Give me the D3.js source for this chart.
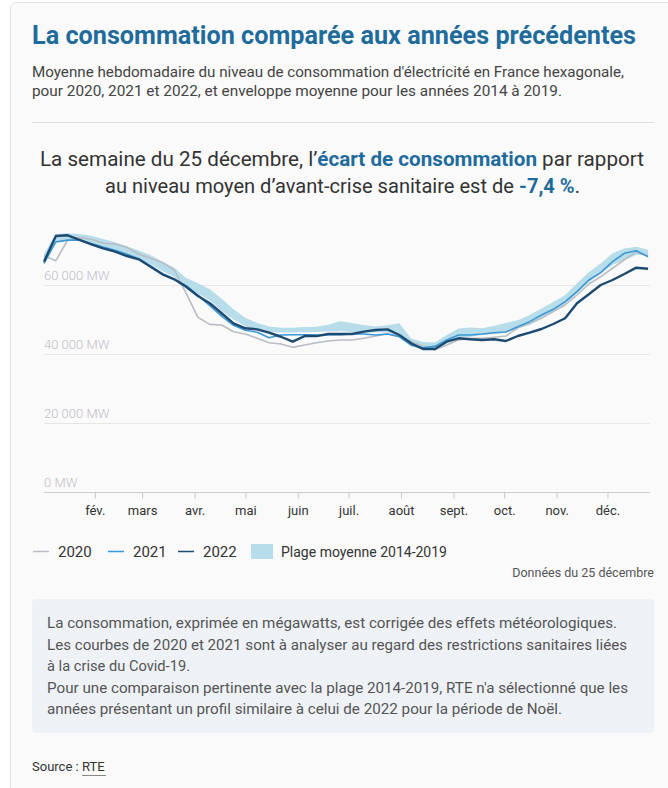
<!DOCTYPE html>
<html>
<head>
<meta charset="utf-8">
<script src="https://cdn.jsdelivr.net/npm/d3@7"></script>
<style>
  html, body { margin: 0; padding: 0; background: #fff; }
  svg text { font-family: Roboto, "Noto Sans", sans-serif; }
</style>
</head>
<body>
<script>
// weekly averages (MW), one value per week, week ending Sundays from 2 Jan to 25 Dec
const conso2020 = [68500, 67050, 73050, 73720, 73240, 72080, 71880, 70920, 68990, 67740, 66470, 64350, 57590, 50630, 48600, 48400, 46470, 45800, 44550, 43280, 42900, 41930, 42610, 43280, 43770, 44060,
  44060, 44550, 45200, 45800, 45200, 43570, 42220, 41160, 42600, 44060, 44550, 44550, 44850, 45200, 47600, 48900, 50350, 52300, 54200, 57100, 60300, 62400, 64850, 67270, 69600, 68500];
const conso2021 = [66300, 72500, 73000, 73000, 72000, 71000, 70100, 68900, 67600, 65500, 63300, 61700, 59800, 57000, 54000, 51000, 48300, 46900, 46300, 44700, 45500, 45600, 45600, 45500, 45600, 45600,
  45800, 45800, 45500, 45800, 45000, 42600, 41830, 42220, 44060, 45500, 45500, 45800, 46180, 46380, 47900, 49370, 51300, 52950, 55160, 58060, 61450, 63570, 66760, 69180, 69950, 68200];
const conso2022 = [66750, 74200, 74400, 73050, 71800, 70630, 69660, 68400, 67450, 65300, 63100, 61650, 59500, 56800, 54700, 51800, 48900, 47450, 47150, 46200, 45000, 43570, 45200, 45200, 45800, 45800,
  45800, 46470, 46960, 47150, 45500, 43100, 41450, 41450, 43570, 44550, 44260, 44060, 44260, 43770, 45220, 46180, 47250, 48700, 50350, 54700, 57300, 60000, 61450, 63200, 65020, 64730];
// plage moyenne 2014-2019 (bas / haut)
const plageBas = [66800, 72800, 73200, 73000, 72300, 71200, 70200, 69000, 67700, 66000, 64000, 62300, 59800, 57500, 55500, 52500, 50000, 48000, 47000, 46400, 46200, 46200, 46300, 46400, 46500, 46600,
  46400, 46200, 46200, 46200, 45500, 42100, 41600, 41200, 43100, 44600, 45000, 45500, 45800, 46200, 47500, 48400, 50300, 52300, 54200, 57600, 60800, 63300, 65800, 67200, 68700, 68700];
const plageHaut = [69000, 74800, 75000, 74800, 74300, 73300, 72400, 71200, 70000, 68600, 66800, 65000, 62000, 60500, 58800, 56000, 53000, 50500, 49000, 48000, 47600, 47600, 47800, 47900, 48500, 49500,
  49000, 48400, 48000, 48300, 48900, 44500, 43500, 43300, 45500, 47400, 47700, 47500, 48200, 49000, 49800, 51300, 53200, 55100, 57100, 60500, 63700, 66200, 69200, 70600, 71100, 70200];

const yTicks = [0, 20000, 40000, 60000];
const monthLabels = ["fév.", "mars", "avr.", "mai", "juin", "juil.", "août", "sept.", "oct.", "nov.", "déc."];
const legendItems = [
  { label: "2020", color: "#b9bdc3" },
  { label: "2021", color: "#3b98d4" },
  { label: "2022", color: "#1c4a70" }
];
const noteLines = [
  "La consommation, exprimée en mégawatts, est corrigée des effets météorologiques.",
  "Les courbes de 2020 et 2021 sont à analyser au regard des restrictions sanitaires liées",
  "à la crise du Covid-19.",
  "Pour une comparaison pertinente avec la plage 2014-2019, RTE n'a sélectionné que les",
  "années présentant un profil similaire à celui de 2022 pour la période de Noël."
];

const weeks = d3.timeWeek.range(new Date(2022, 0, 2), new Date(2022, 11, 26));
const monthStarts = d3.timeMonth.range(new Date(2022, 1, 1), new Date(2022, 11, 2));

const width = 668, height = 788;
const blue = "#1f6c9c";

const svg = d3.select("body").append("svg")
  .attr("width", width)
  .attr("height", height);

// card
svg.append("rect")
  .attr("x", 10.5).attr("y", 2.5)
  .attr("width", 700).attr("height", 820)
  .attr("rx", 6)
  .attr("fill", "#fafafa")
  .attr("stroke", "#e3e3e3");

// title + subtitle
svg.append("text")
  .attr("x", 32).attr("y", 44)
  .attr("font-size", 25).attr("font-weight", 700)
  .attr("fill", blue)
  .attr("textLength", 604).attr("lengthAdjust", "spacingAndGlyphs")
  .text("La consommation comparée aux années précédentes");

svg.append("text")
  .attr("x", 32).attr("y", 77)
  .attr("font-size", 15).attr("fill", "#444")
  .attr("textLength", 592).attr("lengthAdjust", "spacingAndGlyphs")
  .text("Moyenne hebdomadaire du niveau de consommation d'électricité en France hexagonale,");
svg.append("text")
  .attr("x", 32).attr("y", 96)
  .attr("font-size", 15).attr("fill", "#444")
  .attr("textLength", 530).attr("lengthAdjust", "spacingAndGlyphs")
  .text("pour 2020, 2021 et 2022, et enveloppe moyenne pour les années 2014 à 2019.");

svg.append("line")
  .attr("x1", 32).attr("x2", 654)
  .attr("y1", 122.5).attr("y2", 122.5)
  .attr("stroke", "#dcdce4");

// headline
const h1 = svg.append("text")
  .attr("x", 342).attr("y", 166)
  .attr("text-anchor", "middle")
  .attr("font-size", 20).attr("fill", "#333")
  .attr("textLength", 604).attr("lengthAdjust", "spacingAndGlyphs");
h1.append("tspan").text("La semaine du 25 décembre, l’");
h1.append("tspan").attr("font-weight", 700).attr("fill", blue).text("écart de consommation");
h1.append("tspan").text(" par rapport");

const h2 = svg.append("text")
  .attr("x", 342.5).attr("y", 193)
  .attr("text-anchor", "middle")
  .attr("font-size", 20).attr("fill", "#333")
  .attr("textLength", 475).attr("lengthAdjust", "spacingAndGlyphs");
h2.append("tspan").text("au niveau moyen d’avant-crise sanitaire est de ");
h2.append("tspan").attr("font-weight", 700).attr("fill", blue).text("-7,4 %");
h2.append("tspan").text(".");

// scales
const x = d3.scaleTime()
  .domain([new Date(2022, 0, 1), new Date(2023, 0, 1)])
  .range([42.3, 659.9]);
const y = d3.scaleLinear().domain([0, 80000]).range([492, 216]);
const plotLeft = 44, plotRight = 650;

// grid
const grid = svg.append("g");
grid.selectAll("line").data(yTicks).join("line")
  .attr("x1", plotLeft).attr("x2", plotRight)
  .attr("y1", d => y(d) + 0.5).attr("y2", d => y(d) + 0.5)
  .attr("stroke", d => d === 0 ? "#cfcfcf" : "#e6e6e6")
  .attr("stroke-width", 1.2);
grid.selectAll("text").data(yTicks).join("text")
  .attr("x", plotLeft).attr("y", d => y(d) - 5)
  .attr("font-size", 13).attr("font-weight", 300)
  .attr("fill", "#c2bdc8")
  .text(d => d3.format(",")(d).replace(/,/g, " ") + " MW");

// x axis
const xAxis = d3.axisBottom(x)
  .tickValues(monthStarts)
  .tickSize(6)
  .tickPadding(7)
  .tickFormat((d, i) => monthLabels[i]);
const xAxisGroup = svg.append("g")
  .attr("transform", `translate(0,${y(0) + 0.5})`)
  .call(xAxis);
xAxisGroup.select(".domain").remove();
xAxisGroup.selectAll("line").attr("stroke", "#c8c8c8");
xAxisGroup.selectAll("text")
  .attr("font-family", "Roboto, sans-serif")
  .attr("font-size", 13).attr("fill", "#333");

// band
const area = d3.area()
  .x((d, i) => x(weeks[i]))
  .y0((d, i) => y(plageBas[i]))
  .y1((d, i) => y(plageHaut[i]));
svg.append("path")
  .datum(plageBas)
  .attr("fill", "#b7dcea")
  .attr("d", area);

// lines
const line = d3.line()
  .x((d, i) => x(weeks[i]))
  .y(d => y(d));
const series = [
  { values: conso2020, color: legendItems[0].color, w: 1.6 },
  { values: conso2021, color: legendItems[1].color, w: 1.6 },
  { values: conso2022, color: legendItems[2].color, w: 2.4 }
];
svg.append("g").selectAll("path").data(series).join("path")
  .attr("fill", "none")
  .attr("stroke", d => d.color)
  .attr("stroke-width", d => d.w)
  .attr("stroke-linejoin", "round")
  .attr("d", d => line(d.values));

// legend
const legendX = [33, 108, 178];
const legend = svg.append("g");
legendItems.forEach((item, i) => {
  legend.append("line")
    .attr("x1", legendX[i]).attr("x2", legendX[i] + 16)
    .attr("y1", 551.5).attr("y2", 551.5)
    .attr("stroke", item.color).attr("stroke-width", 1.5);
  legend.append("text")
    .attr("x", legendX[i] + 25).attr("y", 557)
    .attr("font-size", 15).attr("fill", "#333")
    .text(item.label);
});
legend.append("rect")
  .attr("x", 251).attr("y", 544)
  .attr("width", 22).attr("height", 15)
  .attr("fill", "#b7dcea");
legend.append("text")
  .attr("x", 281).attr("y", 557)
  .attr("font-size", 15).attr("fill", "#333")
  .attr("textLength", 166).attr("lengthAdjust", "spacingAndGlyphs")
  .text("Plage moyenne 2014-2019");

svg.append("text")
  .attr("x", 654).attr("y", 577)
  .attr("text-anchor", "end")
  .attr("font-size", 12.5).attr("fill", "#555")
  .text("Données du 25 décembre");

// note box
svg.append("rect")
  .attr("x", 32).attr("y", 599)
  .attr("width", 622).attr("height", 134)
  .attr("rx", 4)
  .attr("fill", "#eef2f6");
const noteWidths = [570, 580, 143, 581, 515];
svg.append("g").selectAll("text").data(noteLines).join("text")
  .attr("x", 47).attr("y", (d, i) => 628 + i * 21.5)
  .attr("font-size", 15).attr("fill", "#555")
  .attr("textLength", (d, i) => noteWidths[i]).attr("lengthAdjust", "spacingAndGlyphs")
  .text(d => d);

// source
const src = svg.append("text")
  .attr("x", 32).attr("y", 771)
  .attr("font-size", 13).attr("fill", "#333");
src.append("tspan").text("Source : ");
src.append("tspan").text("RTE");
svg.append("line")
  .attr("x1", 82).attr("x2", 106)
  .attr("y1", 775.5).attr("y2", 775.5)
  .attr("stroke", "#888");
</script>
</body>
</html>
